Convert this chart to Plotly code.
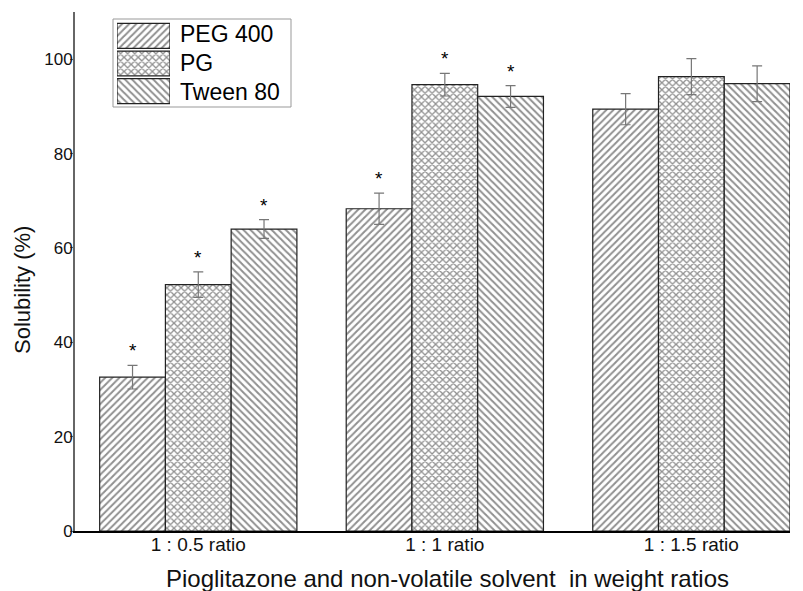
import plotly.graph_objects as go

categories = ["1 : 0.5 ratio", "1 : 1 ratio", "1 : 1.5 ratio"]
series_names = ["PEG 400", "PG", "Tween 80"]
peg400 = [32.6, 68.3, 89.4]
pg = [52.2, 94.6, 96.3]
tween80 = [64.0, 92.1, 94.8]
peg400_err = [2.5, 3.3, 3.3]
pg_err = [2.7, 2.4, 3.8]
tween80_err = [2.0, 2.3, 3.8]
significant = [[True, True, False], [True, True, False], [True, True, False]]  # per series, per category
x_title = "Pioglitazone and non-volatile solvent  in weight ratios"
y_title = "Solubility (%)"

values = [peg400, pg, tween80]
errors = [peg400_err, pg_err, tween80_err]
shapes = ["/", "x", "\\"]
solid = [0.4, 0.45, 0.4]
xpos = list(range(len(categories)))
bw = 0.8 / 3
offsets = [-bw, 0, bw]

# page body has an 8px margin; the figure is sized/margined so the plot lands
# at screen x 75..790, y 12..531
OFF = 8
W, H = 795, 583
L, T = 75 - OFF, 12 - OFF
R = W - (790 - OFF)
B = H - (531 - OFF)
PW, PH = W - L - R, H - T - B


def px_x(sx):
    return (sx - OFF - L) / PW


def px_y(sy):
    return (H - B - (sy - OFF)) / PH


def marker_for(s):
    return dict(color="white", line=dict(color="#222", width=1.2),
                pattern=dict(shape=shapes[s], size=5, solidity=solid[s],
                             fgcolor="#222", bgcolor="white"))


fig = go.Figure()
for s in range(3):
    fig.add_trace(go.Bar(
        x=[x + offsets[s] for x in xpos], y=values[s], name=series_names[s],
        width=bw, showlegend=False,
        marker=marker_for(s),
        error_y=dict(type="data", array=errors[s], color="#777", thickness=1.2, width=5),
    ))
    for i in xpos:
        if significant[s][i]:
            fig.add_annotation(x=i + offsets[s], y=values[s][i] + errors[s][i], text="*",
                               showarrow=False, yanchor="bottom", yshift=2,
                               font=dict(size=19, color="black", family="Liberation Sans"))

# legend drawn as a small inset of pattern swatches
for s in range(3):
    fig.add_trace(go.Bar(
        x=[1], y=[series_names[s]], orientation="h", name=series_names[s],
        xaxis="x2", yaxis="y2", showlegend=False, hoverinfo="name", width=0.9,
        marker=marker_for(s),
    ))
    fig.add_annotation(xref="paper", yref="paper", x=px_x(178),
                       y=px_y([34.5, 63, 92][s]), text=series_names[s],
                       showarrow=False, xanchor="left", yanchor="middle",
                       font=dict(size=23, color="black"))

fig.add_shape(type="rect", xref="paper", yref="paper",
              x0=px_x(113), x1=px_x(291), y0=px_y(107), y1=px_y(19),
              line=dict(color="#999", width=1), fillcolor="white", layer="below")

# axis titles
fig.add_annotation(xref="paper", yref="paper", x=px_x(447), y=px_y(578), text=x_title,
                   showarrow=False, xanchor="center", yanchor="middle",
                   font=dict(size=24, color="#111"))
fig.add_annotation(xref="paper", yref="paper", x=px_x(22), y=px_y(290), text=y_title,
                   showarrow=False, xanchor="center", yanchor="middle", textangle=-90,
                   font=dict(size=22, color="#111"))

fig.update_layout(
    width=W, height=H,
    margin=dict(l=L, r=R, t=T, b=B),
    paper_bgcolor="white", plot_bgcolor="white",
    font=dict(family="Liberation Sans, Arial", color="#111"),
    showlegend=False,
    barmode="overlay",
    xaxis=dict(
        range=[-0.5, 2.4], tickvals=xpos, ticktext=categories, automargin=False,
        showline=True, linecolor="black", linewidth=2, ticks="", showgrid=False, zeroline=False,
        tickfont=dict(size=19), ticklabelstandoff=-5,
    ),
    yaxis=dict(
        range=[0, 110], tickvals=[0, 20, 40, 60, 80, 100], automargin=False,
        showline=True, linecolor="#666", linewidth=2, ticks="outside", ticklen=3, tickcolor="#666",
        showgrid=False, zeroline=False, tickfont=dict(size=17), ticklabelstandoff=-6,
    ),
    xaxis2=dict(domain=[px_x(117), px_x(170)], anchor="y2", range=[0, 1],
                visible=False, showgrid=False, zeroline=False),
    yaxis2=dict(domain=[px_y(105), px_y(22)], anchor="x2", visible=False,
                showgrid=False, zeroline=False,
                categoryorder="array", categoryarray=series_names[::-1]),
)
fig.write_html("out.html")
